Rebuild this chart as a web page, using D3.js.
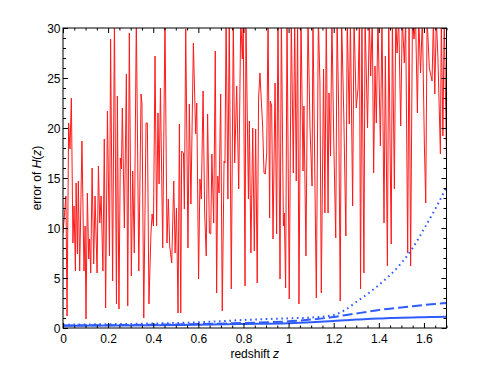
<!DOCTYPE html>
<html>
<head>
<meta charset="utf-8">
<script src="https://cdn.jsdelivr.net/npm/d3@7"></script>
<style>
  body { margin: 0; background: #fff; }
  svg text { font-family: "Liberation Sans", Arial, Helvetica, sans-serif; }
</style>
</head>
<body>
<div id="chart"></div>
<script>
// ---- data ----
// noisy error curve (red), vertices: redshift and error of H(z)
var redZ = [0.000,0.013,0.018,0.025,0.031,0.037,0.044,0.049,0.055,0.058,0.064,0.068,0.074,0.084,0.093,0.098,0.102,0.108,0.114,0.118,
  0.123,0.129,0.136,0.142,0.151,0.157,0.163,0.169,0.177,0.183,0.189,0.197,0.206,0.211,0.220,0.228,0.237,0.241,0.248,0.254,
  0.259,0.263,0.272,0.281,0.287,0.294,0.303,0.309,0.316,0.325,0.336,0.346,0.350,0.358,0.368,0.374,0.381,0.390,0.395,0.401,
  0.408,0.415,0.421,0.426,0.432,0.442,0.452,0.461,0.467,0.473,0.482,0.491,0.497,0.503,0.510,0.516,0.522,0.526,0.534,0.538,
  0.544,0.554,0.560,0.567,0.578,0.588,0.593,0.601,0.607,0.613,0.621,0.628,0.635,0.641,0.649,0.655,0.660,0.668,0.675,0.681,
  0.686,0.692,0.699,0.706,0.714,0.718,0.723,0.731,0.737,0.746,0.755,0.761,0.770,0.779,0.788,0.795,0.799,0.807,0.811,0.822,
  0.826,0.833,0.841,0.848,0.854,0.861,0.867,0.873,0.878,0.885,0.891,0.897,0.903,0.909,0.916,0.919,0.925,0.931,0.940,0.947,
  0.953,0.962,0.968,0.977,0.981,0.987,0.993,1.003,1.012,1.021,1.027,1.034,1.040,1.046,1.055,1.064,1.068,1.077,1.086,1.095,
  1.104,1.108,1.123,1.132,1.139,1.145,1.155,1.161,1.167,1.175,1.179,1.186,1.192,1.200,1.209,1.215,1.222,1.229,1.235,1.245,
  1.254,1.260,1.269,1.274,1.284,1.290,1.300,1.308,1.314,1.319,1.325,1.334,1.339,1.350,1.358,1.364,1.371,1.377,1.383,1.389,
  1.396,1.407,1.414,1.423,1.429,1.438,1.444,1.451,1.455,1.460,1.469,1.475,1.481,1.488,1.497,1.504,1.513,1.519,1.528,1.534,
  1.541,1.549,1.556,1.563,1.571,1.577,1.585,1.593,1.602,1.608,1.614,1.624,1.636,1.642,1.648,1.655,1.662,1.673,1.677,1.684,
  1.690,1.700];
var redErr = [9.5,13.2,1.2,20.5,17.9,23,8.5,12.2,5.7,14.5,7.4,14.7,5.7,18.7,5.7,10.2,0.9,13.5,6.9,8.9,
  5.5,16,6.4,13.2,5.5,16.2,10.5,13.2,5.7,18.9,2,21.7,7.2,28.9,4.7,31,2.4,23.2,1.9,17,
  15.9,22,10,25.4,2.2,29.5,5.2,15.7,7.5,31,5.7,23.4,22.5,1,20.5,20.5,2.4,9.5,11.4,10.2,
  27.2,10.2,21.5,14.4,24,8,31,8.5,12.9,8.2,6.5,14.7,7.5,12,1.5,20.4,1.5,17.7,17.5,11.9,
  29.9,8,22.4,12.4,28.5,19.4,22.5,4.9,14.9,12.9,23.7,11.5,7.2,21.4,9.5,9.4,17.4,10.5,27.7,3.5,
  15.2,13.5,23.4,1.7,16.7,16.5,31,12.9,31,3.9,31,16.5,24.2,13.9,31,26.9,31,4.2,31,12.9,
  20.7,7.5,20,7.7,19.9,4.5,23,25.5,23.2,20.2,15.5,15.4,17.5,31,11,22.7,22.2,8.9,24.5,9.4,
  31,4.9,31,10.2,11.5,4,31,2.9,31,15.5,31,14.7,31,2.4,31,15.7,22.2,7.2,31,20,
  14.2,31,3,31,24.5,3.5,25.9,11.5,31,11.5,23.5,17.2,31,19,9,31,22,2.7,31,21,
  9.2,31,20.4,31,12.2,31,22,24,31,3.9,31,5.5,31,20,31,25.2,31,15.5,26.2,20.5,
  31,18.2,31,10.5,27.2,6.2,31,15.9,8.4,31,13.9,31,27.5,31,20.2,31,26.5,31,7.5,31,
  6.2,31,28.9,31,21.5,31,25.5,31,18.2,12.5,31,26,24.7,31,23.4,31,27,17.4,31,19.2,
  31,17];

// smooth blue curves
var curveZ   = [0, 0.2, 0.4, 0.6, 0.8, 1.0, 1.1, 1.2, 1.25, 1.3, 1.35, 1.4, 1.45, 1.5, 1.55, 1.6, 1.65, 1.7];
var solidErr = [0.22,0.25,0.28,0.32,0.40,0.48,0.58,0.70,0.77,0.85,0.90,0.95,0.99,1.03,1.06,1.08,1.11,1.13];
var dashErr  = [0.25,0.28,0.33,0.40,0.50,0.67,0.85,1.10,1.28,1.45,1.62,1.80,1.93,2.05,2.17,2.30,2.40,2.50];
var dotErr   = [0.33,0.38,0.45,0.57,0.80,0.97,1.05,1.30,1.80,2.60,3.40,4.30,5.30,6.50,8.00,9.90,11.9,14.1];

var xMajor = [0, 0.2, 0.4, 0.6, 0.8, 1.0, 1.2, 1.4, 1.6];
var yMajor = [0, 5, 10, 15, 20, 25, 30];

(function () {
  var W = 491, H = 369;
  var left = 63, right = 446.5, top = 28, bottom = 328;

  var svg = d3.select("#chart").append("svg")
    .attr("width", W).attr("height", H);

  var x = d3.scaleLinear().domain([0, 1.7]).range([left, right]);
  var y = d3.scaleLinear().domain([0, 30]).range([bottom, top]);

  svg.append("clipPath").attr("id", "plotclip")
    .append("rect").attr("x", left).attr("y", top)
    .attr("width", right - left).attr("height", bottom - top);

  var plot = svg.append("g").attr("clip-path", "url(#plotclip)");

  // red noisy line
  var redPts = redZ.map(function (z, i) { return [z, redErr[i]]; });
  var line = d3.line()
    .x(function (d) { return x(d[0]); })
    .y(function (d) { return y(d[1]); });

  plot.append("path")
    .datum(redPts)
    .attr("fill", "none")
    .attr("stroke", "#ff1a1a")
    .attr("stroke-width", 1)
    .attr("d", line);

  // blue lines
  var smooth = d3.line()
    .x(function (d) { return x(d[0]); })
    .y(function (d) { return y(d[1]); })
    .curve(d3.curveMonotoneX);

  var blue = "#2f5cff";
  var series = [
    { vals: solidErr, dash: null },
    { vals: dashErr, dash: "10,4" },
    { vals: dotErr, dash: "1.6,3.6" }
  ];
  series.forEach(function (s) {
    plot.append("path")
      .datum(curveZ.map(function (z, i) { return [z, s.vals[i]]; }))
      .attr("fill", "none")
      .attr("stroke", blue)
      .attr("stroke-width", 2)
      .attr("stroke-dasharray", s.dash)
      .attr("d", smooth);
  });

  // minor tick positions
  var xMinor = d3.range(0, 1.7001, 0.05).filter(function (v) {
    return Math.abs(v / 0.2 - Math.round(v / 0.2)) > 1e-6;
  });
  var yMinor = d3.range(0, 31, 1).filter(function (v) { return v % 5 !== 0; });

  var fmt = function (d) { return String(+d.toFixed(1)); };

  function drawAxis(gen, tr, vals, size, pad) {
    var g = svg.append("g").attr("transform", tr)
      .call(gen.tickValues(vals).tickSize(-size)
        .tickFormat(pad ? fmt : "")
        .tickPadding(pad || 0));
    g.select(".domain").remove();
    g.selectAll("line").attr("stroke", "#000").attr("stroke-width", 1);
    g.selectAll("text").attr("fill", "#000").style("font-size", "12px")
      .style("font-family", '"Liberation Sans", Arial, Helvetica, sans-serif');
    return g;
  }

  // bottom
  drawAxis(d3.axisBottom(x), "translate(0," + bottom + ")", xMajor, 5, 6.5);
  drawAxis(d3.axisBottom(x), "translate(0," + bottom + ")", xMinor, 2.5, 0);
  // top
  drawAxis(d3.axisTop(x), "translate(0," + top + ")", xMajor, 5, 0);
  drawAxis(d3.axisTop(x), "translate(0," + top + ")", xMinor, 2.5, 0);
  // left
  var yl = drawAxis(d3.axisLeft(y), "translate(" + left + ",0)", yMajor, 5, 2.5);
  yl.selectAll("text").attr("dy", "0.36em");
  drawAxis(d3.axisLeft(y), "translate(" + left + ",0)", yMinor, 3, 0);
  // right
  drawAxis(d3.axisRight(y), "translate(" + right + ",0)", yMajor, 5, 0);
  drawAxis(d3.axisRight(y), "translate(" + right + ",0)", yMinor, 3, 0);

  // frame
  svg.append("rect")
    .attr("x", left).attr("y", top)
    .attr("width", right - left).attr("height", bottom - top)
    .attr("fill", "none").attr("stroke", "#000").attr("stroke-width", 1);

  // axis titles
  var xt = svg.append("text")
    .attr("x", (left + right) / 2).attr("y", 358)
    .attr("text-anchor", "middle")
    .style("font-size", "12px");
  xt.append("tspan").text("redshift ");
  xt.append("tspan").attr("font-style", "italic").text("z");

  var yt = svg.append("text")
    .attr("transform", "translate(40.5," + ((top + bottom) / 2) + ") rotate(-90)")
    .attr("text-anchor", "middle")
    .style("font-size", "12px");
  yt.append("tspan").text("error of ");
  yt.append("tspan").attr("font-style", "italic").text("H");
  yt.append("tspan").text("(");
  yt.append("tspan").attr("font-style", "italic").text("z");
  yt.append("tspan").text(")");
})();
</script>
</body>
</html>
